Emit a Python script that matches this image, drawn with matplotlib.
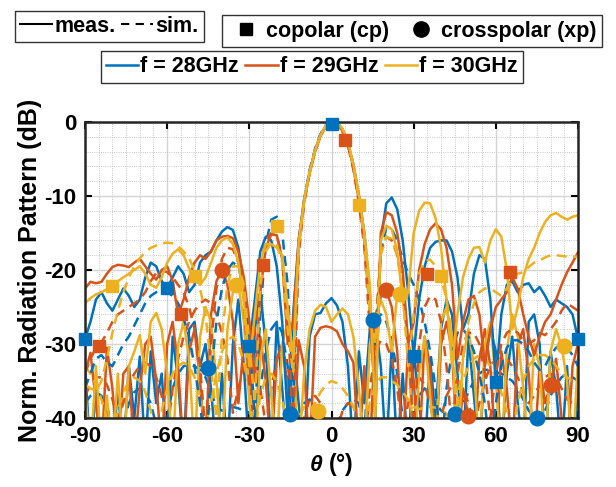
import numpy as np
import matplotlib
matplotlib.use('Agg')
import matplotlib.pyplot as plt
from matplotlib.lines import Line2D

plt.rcParams['font.family'] = ['Liberation Sans', 'DejaVu Sans']
plt.rcParams['font.weight'] = 'bold'
plt.rcParams['axes.unicode_minus'] = False
plt.rcParams['mathtext.fontset'] = 'custom'
plt.rcParams['mathtext.it'] = 'Liberation Sans:italic:bold'
plt.rcParams['mathtext.rm'] = 'Liberation Sans:bold'

# angle grid (deg), 2 deg step
theta = np.arange(-90, 91, 2)

freqs = ['f = 28GHz', 'f = 29GHz', 'f = 30GHz']
colors = ['#0072BD', '#D95319', '#EDB120']

# ---- copolar, measured ----
cp_meas_28 = [
    -29.3, -27, -24, -23, -24.5, -25.5, -24, -22.5, -23.5, -25,
    -24, -21, -19, -19.5, -21.5, -22.4, -21, -19.5, -20.5, -23,
    -22, -19, -18, -17.5, -16, -14.8, -14.2, -14.6, -17, -22,
    -30.3, -24, -17.5, -15.5, -16, -19.5, -27, -40, -26, -16,
    -10.5, -6.8, -3.8, -1.8, -0.5, -0.1, 0, -1.0, -2.8, -5.8,
    -10, -15, -23, -40, -16, -11, -10.2, -11.8, -16, -23,
    -31.6, -24, -19.5, -17, -16.2, -16, -16, -17.5, -21, -28,
    -26, -20.5, -18, -18.5, -24, -35.1, -26, -22, -21.5, -23,
    -22, -21.8, -23, -22.3, -23.5, -25, -24, -24.5, -25, -26,
    -29.3]
cp_meas_29 = [
    -22.5, -21.6, -21.8, -21.6, -20.5, -19.6, -19.3, -19.4, -19.6, -19,
    -18.5, -19.5, -20.5, -21.3, -20, -19.5, -21.5, -26, -24, -21,
    -19, -18, -18.5, -17.5, -16, -15.5, -15.4, -15.7, -17.5, -21,
    -27, -35, -23, -17, -15.2, -15.3, -18.5, -30, -27, -16,
    -10.8, -7, -4, -1.9, -0.5, 0, -0.2, -1.2, -3.0, -6.2,
    -10.6, -16, -25, -38, -15, -12.2, -12.6, -15, -20, -30,
    -27, -20, -16.5, -14.5, -13.7, -14.5, -17, -22, -32, -27,
    -24, -23.5, -26, -33, -28, -25, -24, -23, -21, -22.5,
    -26, -29, -31.5, -29, -27, -26, -24, -22, -20.3, -19,
    -17.6]
cp_meas_30 = [
    -24.5, -23.8, -23.3, -23, -22.6, -22.2, -21.5, -21, -20.5, -20,
    -19.5, -20.5, -22, -22.4, -21, -19, -17.8, -17.2, -18, -19.8,
    -20.8, -22, -21, -19, -17, -16, -15.6, -16.5, -19, -24,
    -33, -26, -19, -16.5, -16.5, -17, -18, -25, -32, -16.5,
    -10.5, -6.8, -3.8, -1.8, -0.4, 0, -0.1, -0.9, -2.7, -5.7,
    -9.8, -15, -22, -40, -16, -14, -14.5, -17.5, -24, -23,
    -15, -12, -10.9, -11, -13, -17, -24, -33, -26, -21,
    -18.5, -17, -16.9, -19, -16, -14.5, -15.5, -20, -28, -25,
    -21, -18.5, -17, -15, -13.5, -12.6, -12.3, -12.8, -13.2, -12.8,
    -12.6]

# ---- copolar, simulated ----
cp_sim_28 = [
    -36, -34, -32, -31.5, -32.5, -33, -31.5, -30, -29, -27.5,
    -26, -24.5, -23.5, -23, -22.8, -23, -23.5, -24.5, -26.5, -29,
    -33, -38, -45, -34, -27, -22.5, -20, -19, -19.5, -22.5,
    -29, -40, -26, -16.5, -13.2, -12.8, -15, -22, -38, -17,
    -10.5, -6.5, -3.6, -1.6, -0.4, 0, -0.1, -1.0, -2.8, -5.8,
    -10, -15.5, -26, -30, -17.5, -14.3, -14.5, -16, -18.5, -20.5,
    -22, -24, -27, -31, -36, -45, -36, -31, -28.5, -28,
    -29, -31, -34, -38, -45, -38, -33, -30.5, -29.5, -29.5,
    -30, -31, -32.5, -33.5, -33, -31.5, -30.5, -30, -30.5, -31.5,
    -33]
cp_sim_29 = [
    -34, -32, -30.5, -29.8, -28.5, -27, -26, -25.5, -25, -24.5,
    -24, -23, -21.5, -20.4, -20, -20.3, -21, -22, -23, -25,
    -28, -33, -42, -30, -22.5, -18.5, -17, -17.2, -19, -24,
    -36, -28, -19.5, -16, -15, -15.4, -18, -26, -42, -18,
    -11, -6.8, -3.8, -1.8, -0.5, 0, -0.2, -1.3, -3.2, -6.5,
    -11, -17, -28, -28, -17.5, -15.5, -16, -18, -22, -30,
    -42, -30, -25, -23.5, -24, -27, -33, -42, -34, -30,
    -28.5, -28.5, -30, -34, -40, -34, -30, -28.5, -28, -28.5,
    -29.5, -30, -29.5, -28.5, -28.8, -28, -27, -25.5, -24.5, -25,
    -25.5]
cp_sim_30 = [
    -35.5, -36, -36.3, -35, -32, -28.5, -25.5, -23, -21, -19.5,
    -18.4, -17.6, -17, -16.7, -16.4, -16.3, -16.4, -16.8, -17.5, -18.4,
    -20, -22.5, -26, -33, -40, -29, -22, -19.5, -19.5, -22,
    -30, -38, -22, -17.5, -16.3, -16.5, -19, -28, -34, -17,
    -10.8, -6.8, -3.8, -1.8, -0.5, -0.1, 0, -0.9, -2.9, -6.0,
    -10.3, -16, -26, -30, -18, -15.5, -15.8, -18, -23, -33,
    -26, -20.5, -18.8, -18.6, -19.5, -21, -24, -29, -38, -32,
    -27, -24.5, -23, -22.5, -22.5, -23, -23.5, -22.5, -21.2, -20.5,
    -20.3, -19.6, -19, -18.7, -18.3, -18, -18, -18.1, -18.2, -18.2,
    -18.2]

# ---- crosspolar, measured ----
xp_meas_28 = [
    -33, -45, -36, -45, -38, -45, -36, -45, -33, -40,
    -31.7, -45, -31, -38, -34, -45, -29, -35, -45, -28,
    -27, -33, -30, -36, -45, -34, -45, -30, -24, -33,
    -45, -28, -23, -30, -45, -27, -36, -45, -30, -38,
    -45, -29, -26, -25.8, -24.5, -23.8, -24.8, -27, -33, -45,
    -31, -38, -28, -27, -33, -45, -30, -45, -34, -45,
    -31, -38, -45, -32, -40, -28, -24, -26, -34, -45,
    -29, -37, -45, -32, -28, -31, -45, -34, -29, -38,
    -45, -27, -26, -30, -45, -31, -36, -45, -33, -45,
    -36]
xp_meas_29 = [
    -34, -31.2, -38, -45, -30.5, -36, -45, -34, -33, -45,
    -36, -30, -29, -35, -45, -30, -27, -33, -45, -31,
    -28, -35, -45, -26, -21.5, -20, -22, -27, -38, -30,
    -33, -45, -29, -35, -45, -32, -30, -36, -45, -29.5,
    -33, -45, -29, -27.8, -27.6, -27.8, -28.3, -30, -31, -32.5,
    -45, -33, -45, -28, -23.5, -22.7, -25, -31, -45, -30,
    -35, -45, -29, -33, -45, -30, -27, -31, -45, -36,
    -39.7, -45, -32, -28, -33, -45, -31, -36, -45, -30,
    -28, -34, -45, -33, -38, -35.5, -32, -40, -45, -33,
    -30]
xp_meas_30 = [
    -36, -45, -33, -45, -37, -45, -34, -45, -33, -31,
    -28.8, -34, -27, -25.8, -28, -34, -45, -30, -27, -32,
    -45, -29, -25, -27, -35, -45, -28, -23, -22, -27,
    -38, -45, -32, -28, -37, -45, -30, -27, -31, -45,
    -34, -28, -25.5, -24.7, -25, -27, -26, -25.2, -26, -29,
    -36, -45, -30, -26, -24, -26, -31, -23.2, -24, -30,
    -45, -34, -29, -37, -45, -27, -25, -29, -45, -32,
    -28, -33, -45, -30, -27, -35, -45, -31, -26, -29,
    -36, -45, -30, -33, -45, -31, -28, -30.3, -35, -45,
    -32]

# ---- crosspolar, simulated ----
xp_sim_28 = [
    -38, -37, -36.5, -37, -38.5, -41, -45, -41, -38, -36.5,
    -36, -36.5, -38, -41, -45, -40, -36, -34, -33, -32.8,
    -33, -33.5, -34.5, -36.5, -38.5, -39, -38.8, -38.5, -38.7, -39,
    -39.3, -40, -36, -31, -28, -27, -28.5, -33, -45, -40,
    -38, -37.5, -38, -39, -41, -45, -41, -39, -38, -37.5,
    -38, -42, -30, -26.7, -26, -27, -29.5, -34, -40, -45,
    -40, -37, -36, -36.5, -38, -39, -39.5, -39.5, -39.3, -38,
    -36.5, -35, -34, -33.5, -33.5, -33.8, -34, -34.5, -35, -36,
    -37.5, -39, -40, -40.5, -39, -37, -35.5, -34.5, -34, -34.5,
    -35]
xp_sim_29 = [
    -37, -35.5, -34.5, -34.5, -35.5, -37.5, -40, -38, -35.5, -34,
    -33, -32.5, -33, -34.5, -37, -42, -36, -32, -29, -27,
    -25.5, -24.5, -24, -24.5, -26, -28.5, -32, -39.3, -36, -33,
    -32, -33, -36, -41, -36, -32, -31, -33, -38, -45,
    -40, -37.5, -37, -38, -41, -45, -42, -39, -38, -38.5,
    -41, -45, -36, -31, -29.5, -30, -32, -36, -42, -38,
    -35, -34.5, -35.5, -38, -42, -40, -37, -35.5, -35, -36,
    -38, -41, -38, -35, -33, -32, -31.8, -32, -33, -34.5,
    -36.5, -38, -37, -35.5, -34.5, -34, -34.5, -36, -37.5, -38,
    -37]
xp_sim_30 = [
    -33, -34, -35.5, -37.5, -40, -42, -39, -36.5, -35, -34.5,
    -35, -36.5, -39, -43, -39, -36, -34, -33, -32.5, -33,
    -34.5, -37, -41, -38, -34, -31, -29.5, -29, -30, -32.5,
    -36, -42, -37, -34.5, -34, -35, -37.5, -41, -43, -40,
    -38.5, -39, -38, -36.5, -35.5, -35, -35.3, -36, -37, -38.5,
    -42, -45, -38, -35.5, -34.5, -34.5, -35, -35.5, -36.5, -37.5,
    -38.5, -38.8, -38.6, -38.5, -38.6, -38.7, -39.5, -41, -38, -35,
    -33, -32, -31.5, -32, -33, -34.5, -36.5, -39, -42, -38,
    -35, -33, -32, -31.5, -31.5, -32, -33, -34, -34.5, -35,
    -35.5]

# ---- marker points (squares: copolar, circles: crosspolar) ----
cp_mk_ang = [[-90, -60, -30, 0, 30, 60, 90],
             [-85, -55, -25, 5, 35, 65],
             [-80, -50, -20, 10, 40]]
cp_mk_val = [[-29.3, -22.4, -30.3, -0.3, -31.6, -35.1, -29.3],
             [-30.3, -26, -19.3, -2.4, -20.5, -20.3],
             [-22.2, -20.8, -14, -11.2, -20.8]]
xp_mk_ang = [[-45, -15, 15, 45, 75],
             [-40, 20, 50, 80],
             [-35, -5, 25, 85]]
xp_mk_val = [[-33.2, -39.5, -26.7, -39.5, -40],
             [-20, -22.7, -39.7, -35.5],
             [-22, -39, -23.2, -30.3]]

cp_meas = [cp_meas_28, cp_meas_29, cp_meas_30]
cp_sim = [cp_sim_28, cp_sim_29, cp_sim_30]
xp_meas = [xp_meas_28, xp_meas_29, xp_meas_30]
xp_sim = [xp_sim_28, xp_sim_29, xp_sim_30]

fig = plt.figure(figsize=(6.16, 4.87), dpi=100)
ax = fig.add_axes([0.138, 0.1417, 0.8003, 0.6078])

lw = 1.8
dash = (4, 2.6)
for i in range(3):
    c = colors[i]
    ax.plot(theta, xp_meas[i], '-', color=c, lw=lw)
    ax.plot(theta, xp_sim[i], '--', dashes=dash, color=c, lw=lw)
for i in range(3):
    c = colors[i]
    ax.plot(theta, cp_sim[i], '--', dashes=dash, color=c, lw=lw)
    ax.plot(theta, cp_meas[i], '-', color=c, lw=lw)
for i in range(3):
    c = colors[i]
    ax.plot(cp_mk_ang[i], cp_mk_val[i], 's', color=c, ms=8.5, mec=c,
            clip_on=False, zorder=5)
    ax.plot(xp_mk_ang[i], xp_mk_val[i], 'o', color=c, ms=10.5, mec=c,
            clip_on=False, zorder=5)

ax.set_xlim(-90, 90)
ax.set_ylim(-40, 0)
ax.set_xticks(np.arange(-90, 91, 30))
ax.set_yticks(np.arange(-40, 1, 10))
ax.set_xticks(np.arange(-90, 91, 5), minor=True)
ax.set_yticks(np.arange(-40, 1, 2), minor=True)
ax.grid(which='major', color='#d4d4d4', lw=1.0)
ax.grid(which='minor', color='#b8b8b8', lw=0.6, ls=':')
ax.set_axisbelow(True)
ax.tick_params(which='major', direction='in', top=True, right=True,
               length=5, width=1.5, labelsize=16, pad=6)
ax.tick_params(which='minor', length=0)
for s in ax.spines.values():
    s.set_linewidth(1.8)
    s.set_color('#262626')

ax.set_xlabel(r'$\theta$ (°)', fontsize=16.5, fontweight='bold', labelpad=3)
ax.set_ylabel('Norm. Radiation Pattern (dB)', fontsize=18,
              fontweight='bold', labelpad=2)

lp = dict(weight='bold', size=15.5)
common = dict(frameon=True, fancybox=False, edgecolor='#333333',
              framealpha=1, prop=lp, borderpad=0.25, handletextpad=0.1,
              loc='center', borderaxespad=0)

h1 = [Line2D([], [], color='black', lw=1.5),
      Line2D([], [], color='black', lw=1.5, ls='--', dashes=(4, 3))]
leg1 = fig.legend(h1, ['meas.', 'sim.'], ncol=2, handlelength=1.5,
                  columnspacing=0.25,
                  bbox_to_anchor=(109.5 / 616, 1 - 26.5 / 487), **common)

h2 = [Line2D([], [], color='black', ls='', marker='s', ms=9),
      Line2D([], [], color='black', ls='', marker='o', ms=11)]
leg2 = fig.legend(h2, ['copolar (cp)', 'crosspolar (xp)'], ncol=2,
                  handlelength=1.7, columnspacing=0.6,
                  bbox_to_anchor=(412 / 616, 1 - 31 / 487), **common)

h3 = [Line2D([], [], color=c, lw=1.8) for c in colors]
leg3 = fig.legend(h3, freqs, ncol=3, handlelength=1.5, columnspacing=0.3,
                  bbox_to_anchor=(312 / 616, 1 - 67 / 487), **common)

fig.savefig('out.png', dpi=100)
